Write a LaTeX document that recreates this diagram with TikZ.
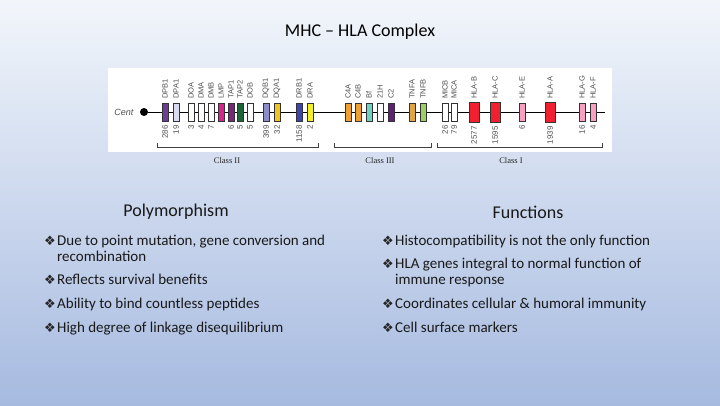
\documentclass[tikz,border=0pt]{standalone}
\usepackage{fontspec}
\setmainfont{Carlito}
\newfontfamily\genefont{Liberation Sans}
\newfontfamily\classfont{Liberation Serif}
\newfontfamily\symfont{DejaVu Sans}
\usetikzlibrary{positioning}

\definecolor{bgtop}{RGB}{242,246,251}
\definecolor{bgbot}{RGB}{166,186,224}
\definecolor{lblgray}{RGB}{80,80,80}
\definecolor{hlared}{RGB}{240,32,48}
\definecolor{hlapink}{RGB}{248,160,192}
\definecolor{dpbcol}{RGB}{110,60,150}
\definecolor{dpacol}{RGB}{218,218,240}
\definecolor{lmpcol}{RGB}{215,35,140}
\definecolor{tap1col}{RGB}{120,40,120}
\definecolor{tap2col}{RGB}{30,100,55}
\definecolor{dqbcol}{RGB}{140,140,200}
\definecolor{dqacol}{RGB}{240,195,30}
\definecolor{drbcol}{RGB}{60,70,170}
\definecolor{dracol}{RGB}{242,238,40}
\definecolor{c4col}{RGB}{240,160,50}
\definecolor{bfcol}{RGB}{110,210,190}
\definecolor{c2col}{RGB}{100,30,120}
\definecolor{tnfacol}{RGB}{225,165,70}
\definecolor{tnfbcol}{RGB}{160,205,100}

\tikzset{
  genebox/.style={draw=black!80, line width=0.5pt, minimum width=6pt, minimum height=18pt, inner sep=0pt},
  genewide/.style={genebox, minimum width=10pt, minimum height=20pt},
  genelbl/.style={font=\genefont\fontsize{7.5}{8}\selectfont, text=lblgray, rotate=90, anchor=west, inner sep=0pt},
  numlbl/.style={font=\genefont\fontsize{8}{9}\selectfont, text=lblgray, rotate=90, anchor=east, inner sep=0pt},
  classlbl/.style={font=\classfont\fontsize{8.5}{10}\selectfont, text=black!85},
  bracket/.style={draw=black!75, line width=0.6pt},
  heading/.style={font=\fontsize{18}{20}\selectfont, text=black!90},
  bul/.style={font=\symfont\fontsize{13}{14}\selectfont, text=black!85, anchor=base west, inner sep=0pt},
  item/.style={font=\fontsize{15}{16}\selectfont, text=black!90, anchor=base west, inner sep=0pt}
}

\newcommand{\gene}[5][genebox]{%
  \node[#1, fill=#4] (#2) at (#3,112) {};
  \node[genelbl] at (#3,99) {#5};}
\newcommand{\alleles}[2]{\node[numlbl] at ([yshift=-4pt]#1.south) {#2};}

\begin{document}
\begin{tikzpicture}[x=1pt,y=-1pt]
\shade[top color=bgtop, bottom color=bgbot] (0,0) rectangle (720,405);
\node[font=\fontsize{18}{20}\selectfont] (title) at (360,32) {MHC -- HLA Complex};

\fill[white] (108,68) rectangle (612,152);
\node[circle, fill=black, inner sep=0pt, minimum size=8pt] (cent) at (144,112) {};
\node[font=\genefont\itshape\fontsize{9}{10}\selectfont, text=lblgray, left=3pt of cent] (centlbl) {Cent};
\coordinate (qend) at (605,112);
\draw[line width=1pt] (cent) -- (qend);

\gene{DPB1}{165}{dpbcol}{DPB1}
\gene{DPA1}{176}{dpacol}{DPA1}
\gene{DOA}{191}{white}{DOA}
\gene{DMA}{201}{white}{DMA}
\gene{DMB}{211}{white}{DMB}
\gene{LMP}{221}{lmpcol}{LMP}
\gene{TAP1}{231}{tap1col}{TAP1}
\gene{TAP2}{240}{tap2col}{TAP2}
\gene{DOB}{250}{white}{DOB}
\gene{DQB1}{266}{dqbcol}{DQB1}
\gene{DQA1}{277}{dqacol}{DQA1}
\gene{DRB1}{299}{drbcol}{DRB1}
\gene{DRA}{310}{dracol}{DRA}
\gene{C4A}{348}{c4col}{C4A}
\gene{C4B}{358}{c4col}{C4B}
\gene{Bf}{369}{bfcol}{Bf}
\gene{21H}{380}{white}{21H}
\gene{C2}{391}{c2col}{C2}
\gene{TNFA}{412}{tnfacol}{TNFA}
\gene{TNFB}{423}{tnfbcol}{TNFB}
\gene{MICB}{445}{white}{MICB}
\gene{MICA}{454}{white}{MICA}
\gene[genewide]{HLA-B}{474}{hlared}{HLA-B}
\gene[genewide]{HLA-C}{495}{hlared}{HLA-C}
\gene{HLA-E}{522}{hlapink}{HLA-E}
\gene[genewide]{HLA-A}{550}{hlared}{HLA-A}
\gene{HLA-G}{582}{hlapink}{HLA-G}
\gene{HLA-F}{593}{hlapink}{HLA-F}

\alleles{DPB1}{286}
\alleles{DPA1}{19}
\alleles{DOA}{3}
\alleles{DMA}{4}
\alleles{DMB}{7}
\alleles{TAP1}{6}
\alleles{TAP2}{5}
\alleles{DOB}{5}
\alleles{DQB1}{399}
\alleles{DQA1}{32}
\alleles{DRB1}{1158}
\alleles{DRA}{2}
\alleles{MICB}{26}
\alleles{MICA}{79}
\alleles{HLA-B}{2577}
\alleles{HLA-C}{1595}
\alleles{HLA-E}{6}
\alleles{HLA-A}{1939}
\alleles{HLA-G}{16}
\alleles{HLA-F}{4}

\draw[bracket] (157,143) |- (318,147) -- (318,143);
\draw[bracket] (334,143) |- (431,147) -- (431,143);
\draw[bracket] (437,143) |- (602,147) -- (602,143);
\node[classlbl] (cls2) at (227,161) {Class II};
\node[classlbl] (cls3) at (380,161) {Class III};
\node[classlbl] (cls1) at (511,161) {Class I};

\node[heading] (poly) at (176,212) {Polymorphism};
\node[heading] (func) at (528,212) {Functions};

\node[bul] (pb1) at (44,245) {❖};
\node[item] (p1) at (57,245) {Due to point mutation, gene conversion and};
\node[item] (p1b) at (57,261) {recombination};
\node[bul] (pb2) at (44,284) {❖};
\node[item] (p2) at (57,284) {Reflects survival benefits};
\node[bul] (pb3) at (44,308) {❖};
\node[item] (p3) at (57,308) {Ability to bind countless peptides};
\node[bul] (pb4) at (44,332) {❖};
\node[item] (p4) at (57,332) {High degree of linkage disequilibrium};

\node[bul] (fb1) at (382,245) {❖};
\node[item] (f1) at (395,245) {Histocompatibility is not the only function};
\node[bul] (fb2) at (382,268) {❖};
\node[item] (f2) at (395,268) {HLA genes integral to normal function of};
\node[item] (f2b) at (395,284) {immune response};
\node[bul] (fb3) at (382,308) {❖};
\node[item] (f3) at (395,308) {Coordinates cellular \& humoral immunity};
\node[bul] (fb4) at (382,332) {❖};
\node[item] (f4) at (395,332) {Cell surface markers};
\end{tikzpicture}
\end{document}
